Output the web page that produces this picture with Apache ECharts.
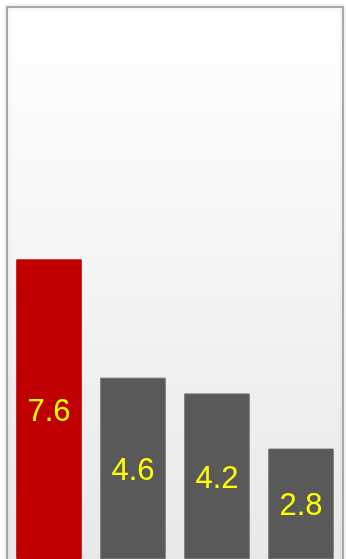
<!DOCTYPE html>
<html>
<head>
<meta charset="utf-8">
<script src="https://cdn.jsdelivr.net/npm/echarts@6/dist/echarts.min.js"></script>
<style>
  html, body { margin: 0; padding: 0; background: #ffffff; }
  #chart { width: 346px; height: 559px; }
</style>
</head>
<body>
<div id="chart"></div>
<script>
// Category names and values for the four bars
const categories = ['A', 'B', 'C', 'D'];
const values = [7.6, 4.6, 4.2, 2.8];
// First bar is highlighted, the rest are neutral
const barColors = ['#c00000', '#595959', '#595959', '#595959'];

const chart = echarts.init(document.getElementById('chart'), null, { renderer: 'canvas' });

chart.setOption({
  animation: false,
  backgroundColor: '#ffffff',
  // Framed panel with a soft vertical gradient; its bottom runs past the canvas edge
  graphic: [{
    type: 'rect',
    z: -10,
    silent: true,
    shape: { x: 7, y: 7, width: 336, height: 600 },
    style: {
      fill: new echarts.graphic.LinearGradient(0, 0, 0, 1, [
        { offset: 0, color: '#ffffff' },
        { offset: 0.42, color: '#f5f5f6' },
        { offset: 0.93, color: '#e8e8ea' },
        { offset: 1, color: '#e6e6e8' }
      ]),
      stroke: '#a9a9a9',
      lineWidth: 2,
      shadowColor: 'rgba(0,0,0,0.12)',
      shadowBlur: 4
    }
  }],
  grid: {
    left: 7,
    top: 7,
    width: 336,
    height: 554,
    show: false
  },
  xAxis: {
    type: 'category',
    data: categories,
    axisLine: { show: false },
    axisTick: { show: false },
    axisLabel: { show: false },
    splitLine: { show: false }
  },
  yAxis: {
    type: 'value',
    min: 0,
    max: 14,
    axisLine: { show: false },
    axisTick: { show: false },
    axisLabel: { show: false },
    splitLine: { show: false }
  },
  series: [{
    type: 'bar',
    barCategoryGap: '22%',
    data: values.map((v, i) => ({
      value: v,
      itemStyle: {
        color: barColors[i],
        borderColor: i === 0 ? barColors[i] : '#6e6e6e',
        borderWidth: 1
      }
    })),
    label: {
      show: true,
      position: 'inside',
      offset: [0, 3],
      color: '#ffff00',
      fontFamily: 'Liberation Sans, Arial, sans-serif',
      fontSize: 31,
      formatter: p => p.value.toFixed(1)
    }
  }]
});
</script>
</body>
</html>
